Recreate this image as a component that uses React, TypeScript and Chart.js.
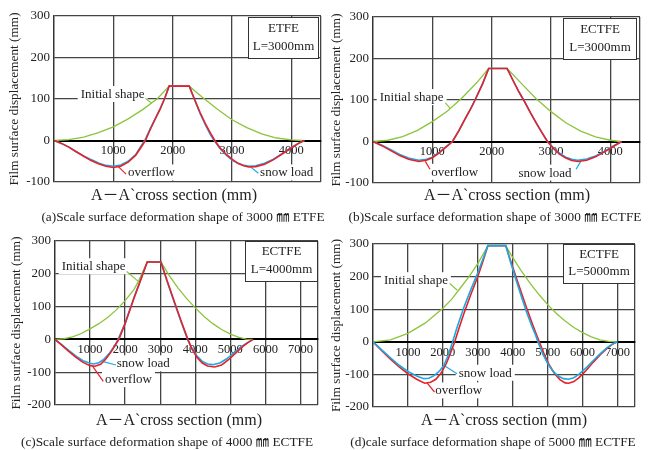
import React, { useEffect, useRef } from 'react';
import { Chart, registerables } from 'chart.js';

Chart.register(...registerables);

const SERIF = "'Liberation Serif', 'Times New Roman', 'Noto Sans CJK SC', serif";
const GREEN = '#8cc43c';
const RED = '#e8202a';
const BLUE = '#1ea8e0';
const GRID = '#444';

// ---------- data (x in mm, y in mm) ----------
const A_INITIAL = [[0,0],[250,2],[500,8],[750,19],[1000,33],[1250,52],[1500,75],[1750,102],[1940,131],[2280,131],[2500,104],[2750,76],[3000,50],[3250,31],[3500,16],[3750,6],[4000,1.5],[4180,0]];
const A_OVERFLOW = [[0,0],[125,-7],[250,-16],[375,-27],[500,-38],[625,-48],[750,-56],[875,-62],[1000,-65],[1125,-62],[1250,-52],[1375,-36],[1460,-18],[1540,0],[1620,26],[1700,50],[1790,76],[1870,103],[1940,131],[2280,131],[2350,106],[2460,68],[2560,38],[2640,17],[2710,0],[2800,-18],[2900,-33],[3000,-45],[3100,-55],[3200,-61],[3280,-64],[3400,-63],[3550,-57],[3700,-46],[3850,-32],[4000,-18],[4120,-7],[4220,0]];
const A_SNOW = [[0,0],[125,-7],[250,-16],[375,-27],[500,-37],[625,-46],[750,-54],[875,-60],[1000,-62],[1125,-59],[1250,-50],[1375,-34],[1460,-15],[1530,0],[1620,28],[1700,51],[1790,77],[1870,103],[1940,131],[2280,131],[2350,105],[2460,66],[2560,35],[2640,13],[2700,0],[2800,-20],[2900,-35],[3000,-47],[3100,-55],[3200,-60],[3300,-62],[3400,-61],[3550,-55],[3700,-45],[3850,-31],[4000,-17],[4120,-7],[4220,0]];

const B_INITIAL = [[0,0],[250,3],[500,12],[750,27],[1000,48],[1250,73],[1500,105],[1750,142],[1950,176],[2260,176],[2500,140],[2750,103],[3000,72],[3250,45],[3500,25],[3750,11],[4000,3],[4170,0]];
const B_OVERFLOW = [[0,0],[150,-10],[300,-22],[450,-34],[600,-43],[770,-48],[900,-45],[1000,-39],[1100,-29],[1200,-17],[1340,0],[1450,27],[1550,54],[1650,80],[1720,100],[1850,140],[1950,176],[2260,176],[2350,150],[2450,122],[2550,97],[2650,70],[2750,45],[2850,21],[2940,0],[3050,-18],[3150,-31],[3250,-40],[3350,-46],[3450,-48],[3600,-45],[3750,-37],[3900,-25],[4050,-12],[4190,0]];
const B_SNOW = [[0,0],[150,-9],[300,-20],[450,-31],[600,-40],[770,-45],[900,-43],[1000,-38],[1100,-28],[1200,-16],[1340,0],[1450,27],[1550,54],[1650,80],[1720,100],[1850,140],[1950,176],[2260,176],[2350,150],[2450,122],[2550,97],[2650,70],[2750,45],[2850,21],[2940,0],[3050,-17],[3150,-29],[3250,-38],[3350,-43],[3450,-45],[3600,-42],[3750,-35],[3900,-24],[4050,-11],[4190,0]];

const C_INITIAL = [[0,0],[250,2],[500,8],[750,18],[1000,32],[1250,48],[1500,67],[1750,90],[2000,118],[2250,152],[2380,177],[2630,236],[3020,236],[3250,196],[3500,158],[3750,125],[4000,96],[4250,70],[4500,48],[4750,30],[5000,16],[5250,6],[5450,1],[5630,0]];
const C_OVERFLOW = [[0,0],[200,-18],[400,-37],[600,-55],[800,-70],[1000,-80],[1140,-82],[1300,-76],[1450,-60],[1600,-38],[1720,-17],[1820,0],[2000,48],[2250,125],[2450,183],[2630,236],[3020,236],[3200,178],[3400,116],[3600,55],[3790,0],[3900,-28],[4050,-55],[4200,-72],[4350,-81],[4550,-84],[4750,-78],[4950,-62],[5150,-42],[5350,-22],[5500,-10],[5650,0]];
const C_SNOW = [[0,0],[200,-17],[400,-34],[600,-51],[800,-65],[1000,-73],[1100,-75],[1250,-71],[1400,-60],[1550,-42],[1700,-20],[1800,0],[2000,50],[2250,127],[2450,184],[2630,236],[3020,236],[3200,176],[3400,113],[3600,52],[3780,0],[3900,-27],[4050,-51],[4200,-67],[4350,-75],[4500,-77],[4700,-72],[4900,-59],[5100,-41],[5300,-23],[5500,-9],[5650,0]];

const D_INITIAL = [[0,0],[500,6],[1000,26],[1500,58],[2000,103],[2250,130],[2500,165],[2750,200],[3000,240],[3290,295],[3800,295],[4000,258],[4250,217],[4500,179],[4750,145],[5000,114],[5250,87],[5500,64],[5750,44],[6000,28],[6250,15],[6500,6],[6750,1.5],[6980,0]];
const D_OVERFLOW = [[0,0],[250,-27],[500,-53],[750,-77],[1000,-98],[1250,-115],[1480,-127],[1650,-124],[1800,-115],[1950,-96],[2100,-66],[2220,-34],[2340,0],[2450,38],[2600,86],[2800,145],[3000,200],[3150,248],[3290,295],[3800,295],[3950,245],[4100,197],[4250,150],[4400,103],[4550,58],[4650,30],[4760,0],[4900,-38],[5050,-72],[5200,-98],[5350,-116],[5500,-126],[5600,-127],[5750,-122],[5900,-110],[6100,-88],[6300,-63],[6500,-40],[6700,-20],[6850,-8],[7000,0]];
const D_SNOW = [[0,0],[250,-25],[500,-49],[750,-72],[1000,-91],[1250,-105],[1450,-113],[1600,-112],[1750,-104],[1900,-90],[2030,-72],[2150,-42],[2280,0],[2400,42],[2600,105],[2800,160],[3000,212],[3150,255],[3290,295],[3800,295],[3950,240],[4100,188],[4250,138],[4400,90],[4550,47],[4650,22],[4720,0],[4850,-35],[5000,-67],[5150,-90],[5300,-105],[5450,-113],[5600,-115],[5750,-110],[5900,-99],[6100,-80],[6300,-58],[6500,-37],[6700,-18],[6850,-7],[7000,0]];

// tick values
const X_TICKS_SHORT = [0, 1000, 2000, 3000, 4000, 4500];
const X_TICKS_LONG = [0, 1000, 2000, 3000, 4000, 5000, 6000, 7000, 7500];
const Y_TICKS_TOP = [-100, 0, 100, 200, 300];
const Y_TICKS_BOTTOM = [-200, -100, 0, 100, 200, 300];

const Y_TITLE = 'Film surface displacement (mm)';
const X_TITLE = 'A－A`cross section (mm)';
const CAPTIONS = [
  '(a)Scale surface deformation shape of 3000 ㎜ ETFE',
  '(b)Scale surface deformation shape of 3000 ㎜ ECTFE',
  '(c)Scale surface deformation shape of 4000 ㎜ ECTFE',
  '(d)cale surface deformation shape of 5000 ㎜ ECTFE',
];
const LEGENDS = [['ETFE', 'L=3000mm'], ['ECTFE', 'L=3000mm'], ['ECTFE', 'L=4000mm'], ['ECTFE', 'L=5000mm']];

// ---------- panel layout ----------
type Note = { text: string; tx: number; ty: number; l: number[]; color: string };

const PANELS = [
  {
    left: 0, top: 0, w: 327, h: 222, pad: { top: 16, right: 6, bottom: 40 }, axisW: 54, titlePad: 7,
    xTicks: X_TICKS_SHORT, yTicks: Y_TICKS_TOP,
    initial: A_INITIAL, overflow: A_OVERFLOW, snow: A_SNOW, blueOnTop: false,
    legend: { w: 71, h: 42, r: 2, t: 1 }, xt: [174, 195], cap: [183, 217],
    notes: [
      { text: 'Initial shape', tx: 450, ty: 112, l: [1543, 101, 1648, 90], color: GREEN },
      { text: 'overflow', tx: 1248, ty: -77, l: [1084, -63, 1214, -81], color: RED },
      { text: 'snow load', tx: 3474, ty: -77, l: [3305, -63, 3445, -79], color: BLUE },
    ] as Note[],
  },
  {
    left: 327, top: 0, w: 330, h: 222, pad: { top: 17, right: 17, bottom: 39 }, axisW: 46, titlePad: 1.3,
    xTicks: X_TICKS_SHORT, yTicks: Y_TICKS_TOP,
    initial: B_INITIAL, overflow: B_OVERFLOW, snow: B_SNOW, blueOnTop: false,
    legend: { w: 74, h: 42, r: 3, t: 1 }, xt: [507, 195], cap: [495, 217],
    notes: [
      { text: 'Initial shape', tx: 113, ty: 107, l: [1220, 93, 1300, 80], color: GREEN },
      { text: 'overflow', tx: 983, ty: -73, l: [882, -48, 960, -67], color: RED },
      { text: 'snow load', tx: 2453, ty: -75, l: [3508, -46, 3423, -67], color: BLUE },
    ] as Note[],
  },
  {
    left: 0, top: 222, w: 327, h: 228, pad: { top: 19, right: 9, bottom: 45 }, axisW: 55, titlePad: 8.7,
    xTicks: X_TICKS_LONG, yTicks: Y_TICKS_BOTTOM,
    initial: C_INITIAL, overflow: C_OVERFLOW, snow: C_SNOW, blueOnTop: false,
    legend: { w: 73, h: 41, r: 0, t: 0 }, xt: [179, 420], cap: [167, 442],
    notes: [
      { text: 'Initial shape', tx: 191, ty: 223, l: [2044, 207, 2375, 177], color: GREEN },
      { text: 'snow load', tx: 1759, ty: -73, l: [1377, -68, 1739, -78], color: BLUE },
      { text: 'overflow', tx: 1426, ty: -121, l: [1075, -82, 1377, -128], color: RED },
    ] as Note[],
  },
  {
    left: 327, top: 222, w: 330, h: 228, pad: { top: 22, right: 22, bottom: 43 }, axisW: 46, titlePad: 1.3,
    xTicks: X_TICKS_LONG, yTicks: Y_TICKS_BOTTOM,
    initial: D_INITIAL, overflow: D_OVERFLOW, snow: D_SNOW, blueOnTop: true,
    legend: { w: 72, h: 40, r: 0, t: 0 }, xt: [504, 420], cap: [493, 442],
    notes: [
      { text: 'Initial shape', tx: 315, ty: 189, l: [2196, 179, 2413, 158], color: GREEN },
      { text: 'snow load', tx: 2453, ty: -95, l: [2024, -72, 2405, -98], color: BLUE },
      { text: 'overflow', tx: 1784, ty: -149, l: [1546, -126, 1760, -154], color: RED },
    ] as Note[],
  },
];

const notesPlugin = {
  id: 'panelNotes',
  beforeDatasetsDraw(chart: any, _args: any, opts: any) {
    const { ctx, chartArea, scales } = chart;
    const x = scales.x, y = scales.y;
    ctx.save();
    // legend box
    const lg = opts.legend;
    const bx = chartArea.right - lg.r - lg.w;
    const by = chartArea.top + lg.t;
    ctx.fillStyle = '#fff';
    ctx.fillRect(bx, by, lg.w, lg.h);
    ctx.strokeStyle = '#333';
    ctx.lineWidth = 1;
    ctx.strokeRect(bx + 0.5, by + 0.5, lg.w - 1, lg.h - 1);
    ctx.font = `13px ${SERIF}`;
    ctx.fillStyle = '#222';
    ctx.textAlign = 'center';
    ctx.textBaseline = 'middle';
    ctx.fillText(opts.lines[0], bx + lg.w / 2, by + lg.h * 0.27);
    ctx.fillText(opts.lines[1], bx + lg.w / 2, by + lg.h * 0.7);
    // annotations
    ctx.textAlign = 'left';
    for (const n of opts.notes as Note[]) {
      const px = x.getPixelForValue(n.tx);
      const py = y.getPixelForValue(n.ty);
      const tw = ctx.measureText(n.text).width;
      ctx.fillStyle = '#fff';
      ctx.fillRect(px - 3, py - 8, tw + 6, 16);
      ctx.fillStyle = '#222';
      ctx.fillText(n.text, px, py + 0.5);
      ctx.strokeStyle = n.color;
      ctx.lineWidth = 1.2;
      ctx.beginPath();
      ctx.moveTo(x.getPixelForValue(n.l[0]), y.getPixelForValue(n.l[1]));
      ctx.lineTo(x.getPixelForValue(n.l[2]), y.getPixelForValue(n.l[3]));
      ctx.stroke();
    }
    ctx.restore();
  },
};

const toXY = (arr: number[][]) => arr.map(([x, y]) => ({ x, y }));

function Panel({ p, idx }: { p: (typeof PANELS)[number]; idx: number }) {
  const ref = useRef<HTMLCanvasElement | null>(null);
  useEffect(() => {
    if (!ref.current) return;
    const xMin = p.xTicks[0];
    const xMax = p.xTicks[p.xTicks.length - 1];
    const yMin = p.yTicks[0];
    const yMax = p.yTicks[p.yTicks.length - 1];
    const chart = new Chart(ref.current, {
      type: 'line',
      data: {
        datasets: [
          { label: 'Initial shape', data: toXY(p.initial), borderColor: GREEN, borderWidth: 1.3, order: 3 },
          { label: 'snow load', data: toXY(p.snow), borderColor: BLUE, borderWidth: 1.6, order: p.blueOnTop ? 1 : 2 },
          { label: 'overflow', data: toXY(p.overflow), borderColor: RED, borderWidth: 1.6, order: p.blueOnTop ? 2 : 1 },
        ] as any,
      },
      options: {
        responsive: false,
        animation: false,
        devicePixelRatio: 1,
        events: [],
        parsing: false as any,
        layout: { padding: { left: 0, top: p.pad.top, right: p.pad.right, bottom: p.pad.bottom } },
        elements: { point: { radius: 0 }, line: { tension: 0, fill: false } },
        plugins: {
          legend: { display: false },
          tooltip: { enabled: false },
          panelNotes: { legend: p.legend, lines: LEGENDS[idx], notes: p.notes },
        } as any,
        scales: {
          x: {
            type: 'linear',
            min: xMin,
            max: xMax,
            position: { y: 0 } as any,
            afterBuildTicks: (s: any) => {
              s.ticks = p.xTicks.map((v) => ({ value: v }));
            },
            ticks: {
              autoSkip: false,
              maxRotation: 0,
              font: { family: SERIF, size: 12.5 },
              color: '#222',
              padding: 3,
              callback: (v: any) => (v === xMin || v === xMax ? '' : String(v)),
            },
            grid: { color: GRID, lineWidth: 1.3, drawTicks: false },
            border: { display: true, color: '#000', width: 2 },
          },
          y: {
            type: 'linear',
            position: 'left',
            min: yMin,
            max: yMax,
            afterBuildTicks: (s: any) => {
              s.ticks = p.yTicks.map((v) => ({ value: v }));
            },
            ticks: { font: { family: SERIF, size: 13 }, color: '#222', padding: 4 },
            grid: {
              drawTicks: false,
              color: (c: any) => (c.tick && c.tick.value === 0 ? '#000' : GRID),
              lineWidth: (c: any) => (c.tick && c.tick.value === 0 ? 2 : 1.3),
            },
            border: { color: '#333', width: 1.3 },
            title: {
              display: true,
              text: Y_TITLE,
              font: { family: SERIF, size: 13.3 },
              color: '#222',
              padding: { top: p.titlePad, bottom: 0 },
            },
            afterFit: (s: any) => {
              s.width = p.axisW;
            },
          },
        } as any,
      },
      plugins: [notesPlugin],
    });
    return () => chart.destroy();
  }, []);
  return (
    <canvas
      ref={ref}
      width={p.w}
      height={p.h}
      style={{ position: 'absolute', left: p.left, top: p.top, width: p.w, height: p.h }}
    />
  );
}

const textStyle = (cx: number, cy: number, size: number): React.CSSProperties => ({
  position: 'absolute',
  left: cx,
  top: cy,
  transform: 'translate(-50%, -50%)',
  whiteSpace: 'nowrap',
  fontFamily: SERIF,
  fontSize: size,
  color: '#222',
  lineHeight: 1,
});

export default function App() {
  return (
    <div style={{ position: 'absolute', left: 0, top: 0, width: 657, height: 450, background: '#fff', overflow: 'hidden' }}>
      {PANELS.map((p, i) => (
        <React.Fragment key={i}>
          <Panel p={p} idx={i} />
          <div style={textStyle(p.xt[0], p.xt[1], 16)}>{X_TITLE}</div>
          <div style={textStyle(p.cap[0], p.cap[1], 13.3)}>{CAPTIONS[i]}</div>
        </React.Fragment>
      ))}
    </div>
  );
}
